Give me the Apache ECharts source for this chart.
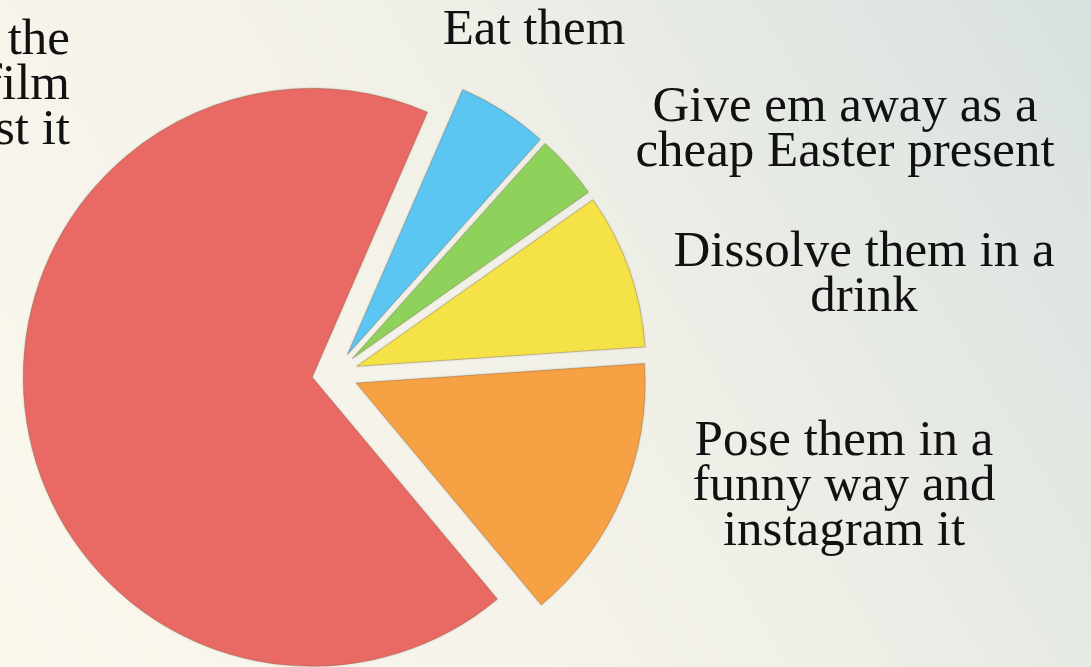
<!DOCTYPE html>
<html>
<head>
<meta charset="utf-8">
<script src="https://cdn.jsdelivr.net/npm/echarts@6/dist/echarts.min.js"></script>
<style>
html,body{margin:0;padding:0;width:1091px;height:667px;overflow:hidden;}
#chart{width:1091px;height:667px;}
</style>
</head>
<body>
<div id="chart"></div>
<script>
// Data (clockwise from the top of the blue slice)
const categories = [
  'Eat them',
  'Give em away as a\ncheap Easter present',
  'Dissolve them in a\ndrink',
  'Pose them in a\nfunny way and\ninstagram it',
  'the\nfilm\nst it'
];
const values = [5.1, 3.6, 8.7, 15.0, 67.6];
const colors = ['#5cc6f2', '#8fd25b', '#f4e246', '#f6a143', '#e96a64'];

// Label placement (layout only)
const labelPos = [
  {x: 534, y: 31, align: 'center'},
  {x: 845, y: 130, align: 'center'},
  {x: 864, y: 275, align: 'center'},
  {x: 844, y: 487, align: 'center'},
  {x: 70, y: 86, align: 'right'}
];

const chart = echarts.init(document.getElementById('chart'));
chart.setOption({
  backgroundColor: new echarts.graphic.LinearGradient(0, 1, 1, 0, [
    {offset: 0, color: '#fcf8ee'},
    {offset: 0.5, color: '#f2f1e8'},
    {offset: 1, color: '#d8e1df'}
  ]),
  animation: false,
  graphic: categories.map((c, i) => ({
    type: 'text',
    x: labelPos[i].x,
    y: labelPos[i].y,
    silent: true,
    style: {
      text: c,
      align: labelPos[i].align,
      verticalAlign: 'middle',
      fontFamily: '"Liberation Serif", "DejaVu Serif", serif',
      fontSize: 51,
      lineHeight: 45,
      fill: '#111'
    }
  })),
  series: [{
    type: 'pie',
    center: [335, 374],
    radius: [0, 289],
    startAngle: 66.5,
    clockwise: true,
    selectedMode: 'multiple',
    selectedOffset: 23,
    emphasis: {disabled: true},
    itemStyle: {
      borderColor: 'rgba(120,90,60,0.35)',
      borderWidth: 1,
      shadowColor: 'rgba(0,0,0,0.12)',
      shadowBlur: 3
    },
    label: {show: false},
    labelLine: {show: false},
    data: categories.map((c, i) => ({
      name: c,
      value: values[i],
      selected: true,
      itemStyle: {color: colors[i]}
    }))
  }]
});
</script>
</body>
</html>
